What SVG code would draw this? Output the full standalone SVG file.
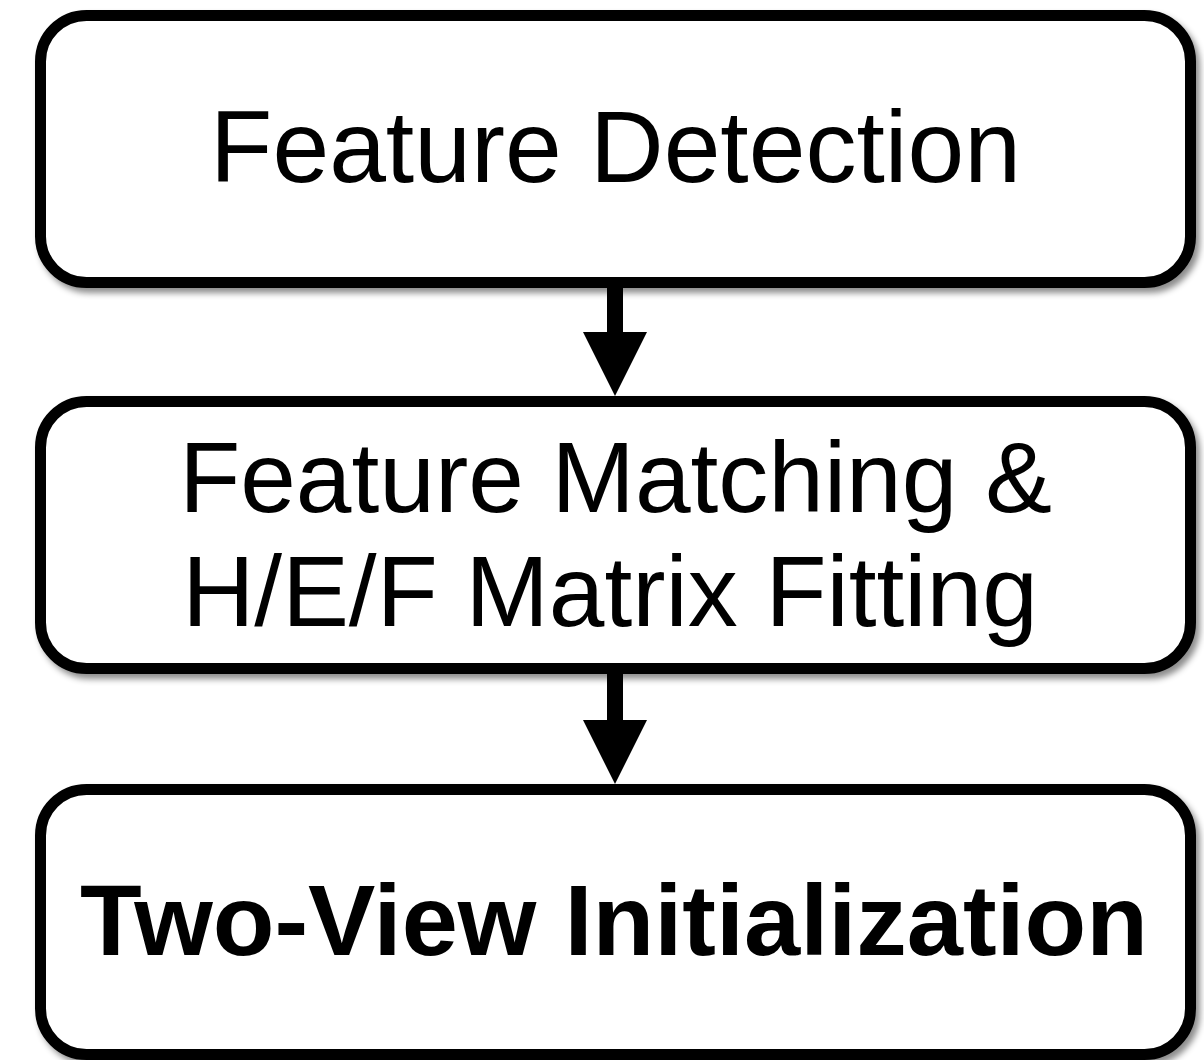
<svg xmlns="http://www.w3.org/2000/svg" width="1204" height="1060" viewBox="0 0 1204 1060">
  <defs>
    <filter id="shadow" x="-5%" y="-10%" width="110%" height="125%">
      <feDropShadow dx="4" dy="5" stdDeviation="3" flood-color="#000" flood-opacity="0.45"/>
    </filter>
    <style>
      .box { fill: #fff; stroke: #000; stroke-width: 11; filter: url(#shadow); }
      .label { font-family: "Liberation Sans", Arial, sans-serif; font-size: 102px; fill: #000; text-anchor: middle; }
      .mid { font-size: 100px; }
      .bold { font-weight: bold; font-size: 101px; }
      .arrow { fill: #000; }
    </style>
  </defs>
  <rect width="1204" height="1060" fill="#fff"/>

  <g id="node-detection">
    <rect class="box" x="40.5" y="15.5" width="1150" height="267" rx="46" ry="46"/>
    <text class="label" x="615.5" y="182">Feature Detection</text>
  </g>

  <g id="node-matching">
    <rect class="box" x="40.5" y="401.5" width="1150" height="267" rx="46" ry="46"/>
    <text class="label mid" x="615.5" y="512">Feature Matching &amp;</text>
    <text class="label mid" x="610" y="626">H/E/F Matrix Fitting</text>
  </g>

  <g id="node-init">
    <rect class="box" x="40.5" y="789.5" width="1150" height="265" rx="46" ry="46"/>
    <text class="label bold" x="614" y="955">Two-View Initialization</text>
  </g>

  <g id="connectors">
    <path class="arrow" d="M607 287 H623 V332 H647 L615 396 L583 332 H607 Z"/>
    <path class="arrow" d="M607 673 H623 V720 H647 L615 784 L583 720 H607 Z"/>
  </g>
</svg>
